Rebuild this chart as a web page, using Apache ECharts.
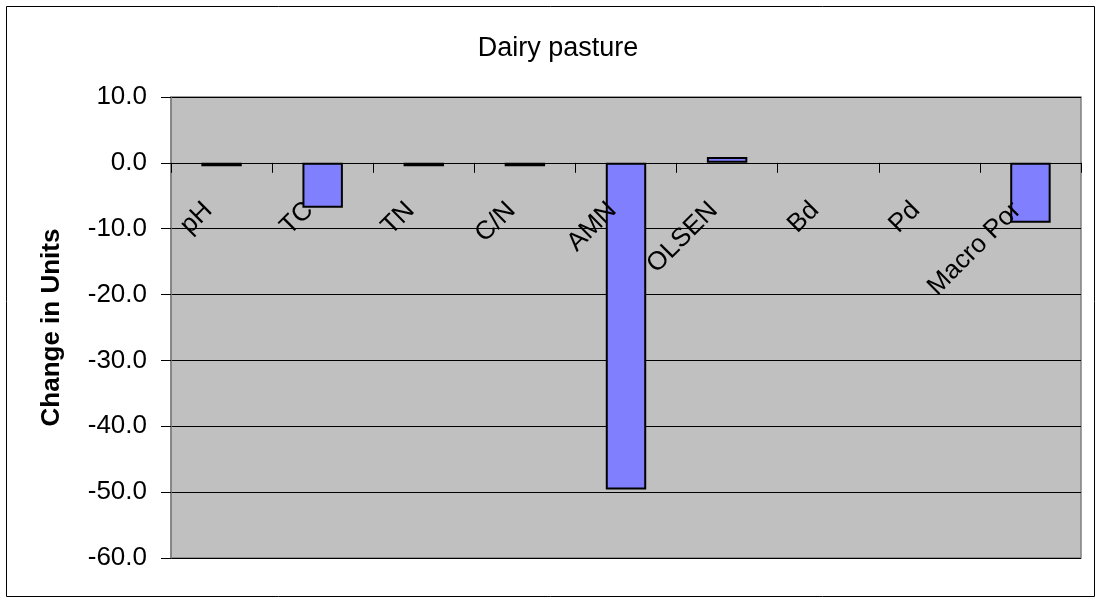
<!DOCTYPE html>
<html>
<head>
<meta charset="utf-8">
<script src="https://cdn.jsdelivr.net/npm/echarts@6/dist/echarts.min.js"></script>
<style>
html,body{margin:0;padding:0;background:#fff;}
#chart{width:1101px;height:605px;}
</style>
</head>
<body>
<div id="chart"></div>
<script>
const categories = ['pH', 'TC', 'TN', 'C/N', 'AMN', 'OLSEN', 'Bd', 'Pd', 'Macro Por'];
const changeValues = [-0.5, -6.8, -0.5, -0.5, -49.6, 0.9, 0, 0, -9.1];
const yTicks = { min: -60, max: 10, interval: 10 };
const titleText = 'Dairy pasture';
const yAxisName = 'Change in Units';

const FONT = '"Liberation Sans", Arial, sans-serif';
const GRID = { left: 171, right: 20, top: 97, bottom: 47 };

const chart = echarts.init(document.getElementById('chart'), null, { renderer: 'canvas' });
const option = {
  backgroundColor: '#ffffff',
  animation: false,
  title: {
    text: titleText,
    left: 553, textAlign: 'center',
    top: 30,
    textStyle: { fontFamily: FONT, fontSize: 27, fontWeight: 'normal', color: '#000' }
  },
  grid: {
    left: GRID.left, right: GRID.right, top: GRID.top, bottom: GRID.bottom,
    containLabel: false, outerBoundsMode: 'none',
    show: true, backgroundColor: '#C0C0C0', borderColor: '#808080', borderWidth: 1.5
  },
  xAxis: {
    type: 'category',
    data: categories,
    offset: 0,
    z: 5,
    axisLine: { onZero: false, lineStyle: { color: '#000', width: 1 } },
    axisTick: { show: true, length: 10, lineStyle: { color: '#000' } },
    axisLabel: {
      rotate: 45, margin: 30, padding: [0, 19, 0, 0],
      color: '#000', fontFamily: FONT, fontSize: 26, interval: 0
    },
    splitLine: { show: false }
  },
  yAxis: {
    type: 'value',
    min: yTicks.min, max: yTicks.max, interval: yTicks.interval,
    name: yAxisName,
    nameLocation: 'middle',
    nameGap: 106,
    nameRotate: 90,
    nameTextStyle: { fontFamily: FONT, fontSize: 26, fontWeight: 'bold', color: '#000' },
    axisLine: { show: true, lineStyle: { color: '#808080', width: 1.5 } },
    axisTick: { show: true, length: 10, lineStyle: { color: '#000' } },
    axisLabel: {
      color: '#000', fontFamily: FONT, fontSize: 26, margin: 24,
      formatter: v => v.toFixed(1)
    },
    splitLine: { show: true, lineStyle: { color: '#000', width: 1 } }
  },
  series: [{
    type: 'bar',
    z: 2,
    data: changeValues.map(v => ({
      value: v,
      itemStyle: v === 0 ? { borderWidth: 0, opacity: 0 } : undefined
    })),
    barWidth: '40%',
    itemStyle: { color: '#8080FF', borderColor: '#000', borderWidth: 2 }
  }],
  graphic: [{
    type: 'rect',
    shape: { x: 6.5, y: 6.5, width: 1088, height: 590 },
    style: { fill: 'none', stroke: '#000', lineWidth: 1 },
    silent: true
  }]
};
chart.setOption(option);
// move the category axis (line, ticks, labels) to the value-axis zero
const zeroY = chart.convertToPixel({ yAxisIndex: 0 }, 0);
const bottomY = chart.getHeight() - GRID.bottom;
chart.setOption({ xAxis: { offset: zeroY - bottomY } });
</script>
</body>
</html>
